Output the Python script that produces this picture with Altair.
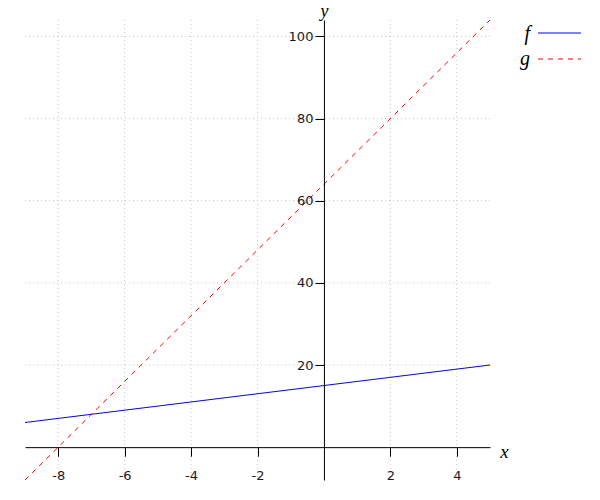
import altair as alt
import pandas as pd

# data
line_x = [-9, 5]
f_y = [6, 20]
g_y = [-8, 104]
x_ticks = [-8, -6, -4, -2, 2, 4]
y_ticks = [20, 40, 60, 80, 100]
x_domain = [-9, 5]
y_domain = [-8, 104]

W, H = 465, 460
# pixel offsets that put the axes through the origin
x_off = -(H * (0 - y_domain[0]) / (y_domain[1] - y_domain[0]))
y_off = -(W * (0 - x_domain[0]) / (x_domain[1] - x_domain[0]))

lines = pd.DataFrame({
    "x": line_x + line_x,
    "y": f_y + g_y,
    "s": ["f", "f", "g", "g"],
})

xs = alt.Scale(domain=x_domain, nice=False, zero=False)
ys = alt.Scale(domain=y_domain, nice=False, zero=False)

label_font = "DejaVu Sans"
serif = "Liberation Serif"

x_axis = alt.Axis(
    values=x_ticks, offset=x_off, grid=False, domainColor="black",
    tickColor="black", tickSize=9, labelPadding=13, labelFont=label_font,
    labelFontSize=13, labelColor="#1a1a1a", title="x", titleAngle=0,
    labelExpr="'' + datum.value",
    titleFont=serif, titleFontStyle="italic", titleFontWeight="normal",
    titleFontSize=19, titleX=W + 14, titleY=4, titleAlign="center",
    titleBaseline="middle", titleColor="black", zindex=1,
    labelFlush=False, labelOverlap=False)
y_axis = alt.Axis(
    values=y_ticks, offset=y_off, grid=False, domainColor="black",
    tickColor="black", tickSize=9, labelPadding=2, labelFont=label_font,
    labelFontSize=13, labelColor="#1a1a1a", title="y", titleAngle=0,
    labelExpr="'' + datum.value",
    titleFont=serif, titleFontStyle="italic", titleFontWeight="normal",
    titleFontSize=18, titleX=0, titleY=-4, titleAlign="center",
    titleBaseline="alphabetic", titleColor="black", zindex=1,
    labelFlush=False, labelOverlap=False)

xgrid = alt.Chart(pd.DataFrame({"v": x_ticks})).mark_rule(
    color="#c8c8c8", strokeDash=[1, 3], strokeWidth=1
).encode(x=alt.X("v:Q", scale=xs, axis=x_axis, title="x"))

ygrid = alt.Chart(pd.DataFrame({"v": y_ticks})).mark_rule(
    color="#c8c8c8", strokeDash=[1, 3], strokeWidth=1
).encode(y=alt.Y("v:Q", scale=ys, axis=y_axis, title="y"))

f_line = alt.Chart(lines[lines.s == "f"]).mark_line(
    color="blue", strokeWidth=1, clip=True
).encode(
    x=alt.X("x:Q", scale=xs, axis=x_axis, title="x"),
    y=alt.Y("y:Q", scale=ys, axis=y_axis, title="y"),
)

g_line = alt.Chart(lines[lines.s == "g"]).mark_line(
    color="red", strokeWidth=1, strokeDash=[5, 5], clip=True
).encode(
    x=alt.X("x:Q", scale=xs, axis=x_axis, title="x"),
    y=alt.Y("y:Q", scale=ys, axis=y_axis, title="y"),
)

legend_names = ["f", "g"]
dummy = pd.DataFrame({"a": [0]})
leg_f_txt = alt.Chart(dummy).mark_text(
    text=legend_names[0], font=serif, fontStyle="italic", fontSize=20,
    align="right", baseline="middle", color="black"
).encode(x=alt.value(505), y=alt.value(14))
leg_f_rule = alt.Chart(dummy).mark_rule(color="blue", strokeWidth=1).encode(
    x=alt.value(513), x2=alt.value(556), y=alt.value(13))
leg_g_txt = alt.Chart(dummy).mark_text(
    text=legend_names[1], font=serif, fontStyle="italic", fontSize=20,
    align="right", baseline="middle", color="black"
).encode(x=alt.value(505), y=alt.value(39))
leg_g_rule = alt.Chart(dummy).mark_rule(
    color="red", strokeWidth=1, strokeDash=[5, 5]).encode(
    x=alt.value(513), x2=alt.value(556), y=alt.value(39))

chart = alt.layer(
    xgrid, ygrid, f_line, g_line, leg_f_txt, leg_f_rule, leg_g_txt, leg_g_rule
).properties(
    width=W, height=H,
    autosize=alt.AutoSizeParams(type="none"),
    padding={"left": 17, "top": 12, "right": 100, "bottom": 10},
).configure_view(stroke=None)

chart.save("out.html", embed_options={"renderer": "svg", "actions": False})
